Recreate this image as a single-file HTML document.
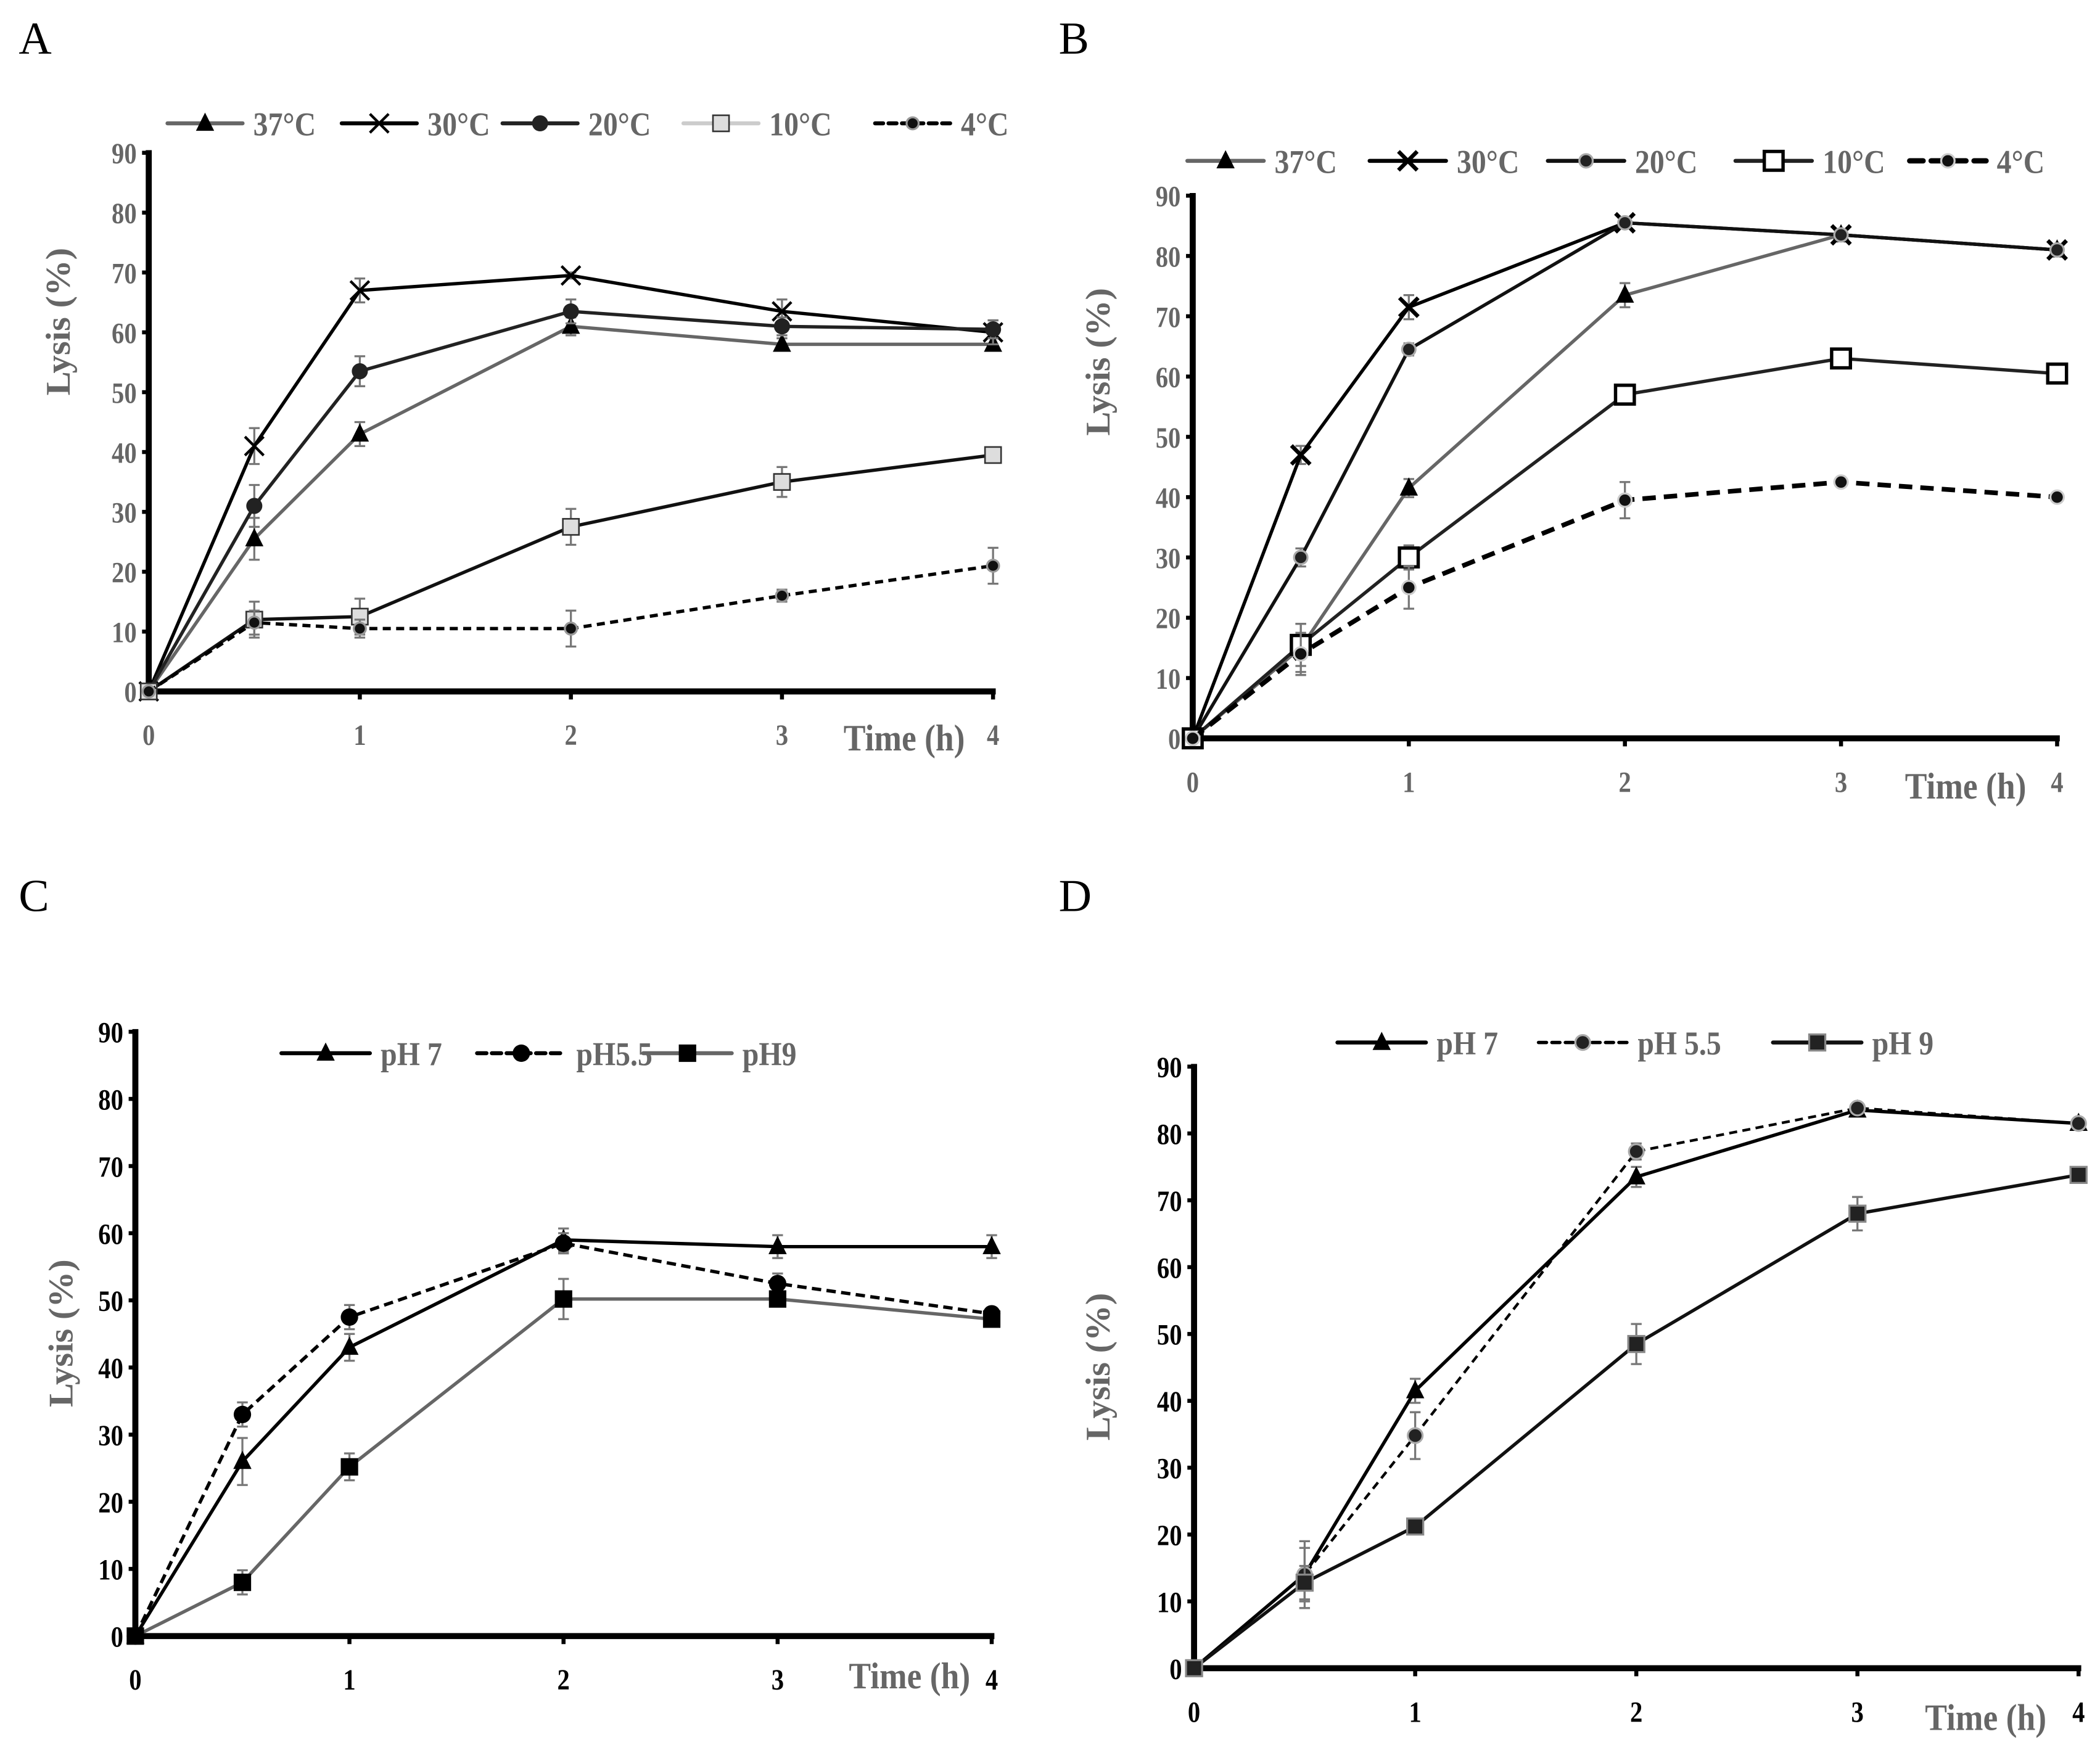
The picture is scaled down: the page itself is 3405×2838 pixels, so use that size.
<!DOCTYPE html>
<html><head><meta charset="utf-8">
<style>
html,body{margin:0;padding:0;background:#fff;}
svg{display:block;}
text{font-family:"Liberation Serif",serif;}
</style></head>
<body>
<svg id="fig" width="3405" height="2838" viewBox="0 0 1567 1306" xmlns="http://www.w3.org/2000/svg">
<rect width="1567" height="1306" fill="#fff"/>
</svg>
<script>
const times = [0, 0.5, 1, 2, 3, 4];
const yTicks = [0,10,20,30,40,50,60,70,80,90];
const xTicks = [0,1,2,3,4];

const A37 = [0,25.5,43,61,58,58];
const A30 = [0,41,67,69.5,63.5,60];
const A20 = [0,31,53.5,63.5,61,60.5];
const A10 = [0,12,12.5,27.5,35,39.5];
const A4  = [0,11.5,10.5,10.5,16,21];
const A37e = [0,3.5,2,1.5,1,1];
const A30e = [0,3,2,0.5,2,2];
const A20e = [0,3.5,2.5,2,1.5,1.5];
const A10e = [0,3,3,3,2.5,0.5];
const A4e  = [0,2,1.5,3,1,3];

const B37 = [0,15,41.5,73.5,83.5,81];
const B30 = [0,47,71.5,85.5,83.5,81];
const B20 = [0,30,64.5,85.5,83.5,81];
const B10 = [0,15.5,30,57,63,60.5];
const B4  = [0,14,25,39.5,42.5,40];
const B37e = [0,4,1.5,2,0.5,0.5];
const B30e = [0,1.5,2,0.5,0.5,0.5];
const B20e = [0,1.5,1,0.5,0.5,0.5];
const B10e = [0,3.5,2,1.5,1,1];
const B4e  = [0,3.5,3.5,3,0.5,0.5];

const C7  = [0,26,43,59,58,58];
const C55 = [0,33,47.5,58.5,52.5,48];
const C9  = [0,8,25.2,50.2,50.2,47.2];
const C7e = [0,3.5,2,1.7,1.7,1.7];
const C55e= [0,1.8,1.8,1.5,1.5,0.8];
const C9e = [0,1.8,2,3,0.8,0.8];

const D7  = [0,14,41.5,73.5,83.5,81.5];
const D55 = [0,14,34.8,77.3,83.8,81.5];
const D9  = [0,12.8,21.2,48.5,68,73.8];
const D7e = [0,5,1.8,1.5,0.5,0.5];
const D55e= [0,4,3.5,1.2,0.5,0.5];
const D9e = [0,2.5,0.5,3,2.5,0.5];

const NS='http://www.w3.org/2000/svg';
const svg=document.getElementById('fig');
function mk(tag,attrs,parent){const e=document.createElementNS(NS,tag);for(const k in attrs)e.setAttribute(k,attrs[k]);(parent||svg).appendChild(e);return e;}

function marker(g,type,x,y,s){
  let e;
  if(type==='tri'){e=mk('polygon',{points:`${x},${y-s.size} ${x-s.size*0.85},${y+s.size*0.7} ${x+s.size*0.85},${y+s.size*0.7}`,fill:s.mfill,stroke:s.mstroke||'none','stroke-width':1},g);}
  else if(type==='x'){const r=s.size;e=mk('path',{d:`M${x-r},${y-r}L${x+r},${y+r}M${x-r},${y+r}L${x+r},${y-r}`,stroke:s.mstroke||'#000','stroke-width':s.xw||2,fill:'none'},g);}
  else if(type==='circ'){e=mk('circle',{cx:x,cy:y,r:s.size,fill:s.mfill,stroke:s.mstroke||'none','stroke-width':s.msw||1.5},g);}
  else if(type==='sq'){const r=s.size;e=mk('rect',{x:x-r,y:y-r,width:2*r,height:2*r,fill:s.mfill,stroke:s.mstroke||'none','stroke-width':s.msw||1.5},g);}
  return e;
}
function ctext(parent,x,y,size,anchor,fill,str,sx){
  const t=mk('text',{x:0,y:0,'font-size':size,'font-weight':'bold','text-anchor':anchor,fill:fill,transform:`translate(${x},${y}) scale(${sx||0.85},1)`},parent);
  t.textContent=str;return t;
}

function panel(cfg){
  const P=mk('g',{});
  
  
  const X=t=>cfg.x0+(cfg.x4-cfg.x0)*t/4;
  const Y=v=>cfg.y0-(cfg.y0-cfg.y90)*v/90;
  const lab=mk('text',{x:cfg.lx,y:cfg.ly,'font-size':34,fill:'#000'},P);
  lab.textContent=cfg.id;
  
  
  yTicks.forEach(v=>{
    const t=ctext(P,cfg.x0-9,Y(v)+8,22,'end',cfg.tickCol,String(v));
    
    
    mk('line',{x1:cfg.x0-5,x2:cfg.x0,y1:Y(v),y2:Y(v),stroke:'#000','stroke-width':3},P);
  });
  xTicks.forEach(v=>{
    const t=ctext(P,X(v),cfg.y0+40,22,'middle',cfg.tickCol,String(v));
    
    
    mk('line',{x1:X(v),x2:X(v),y1:cfg.y0,y2:cfg.y0+6,stroke:'#000','stroke-width':3},P);
  });
  const xa=mk('line',{x1:cfg.x0-2,x2:cfg.x4+2,y1:cfg.y0,y2:cfg.y0,stroke:'#000','stroke-width':4.5},P);
  
  
  const ya=mk('line',{x1:cfg.x0,x2:cfg.x0,y1:cfg.y90-2,y2:cfg.y0+2,stroke:'#000','stroke-width':4.5},P);
  
  
  const tt=ctext(P,cfg.tx,cfg.ty,28,'end','#666','Time  (h)',0.88);
  
  
  const yt=mk('text',{x:0,y:0,'font-size':27,'font-weight':'bold',fill:'#666','text-anchor':'middle',transform:`translate(${cfg.yx},${cfg.yy}) rotate(-90) scale(1,0.95)`},P);
  yt.textContent='Lysis (%)';
  
  
  cfg.series.forEach(s=>{
    const g=mk('g',{},P);
    
    
    s.err.forEach((e,i)=>{
      if(e<=0.3)return;
      const x=X(times[i]);
      mk('path',{d:`M${x},${Y(s.vals[i]-e)}V${Y(s.vals[i]+e)}M${x-4},${Y(s.vals[i]-e)}H${x+4}M${x-4},${Y(s.vals[i]+e)}H${x+4}`,stroke:'#777','stroke-width':1.5,fill:'none'},g);
    });
    const pts=s.vals.map((v,i)=>X(times[i])+','+Y(v)).join(' ');
    const l=mk('polyline',{points:pts,fill:'none',stroke:s.col,'stroke-width':s.w,'stroke-dasharray':s.dash||'none'},g);
    
    
    s.vals.forEach((v,i)=>{
      const m=marker(g,s.mk,X(times[i]),Y(v),s);
      
      
    });
  });
  const lg=mk('g',{},P);
  
  
  cfg.series.forEach((s,i)=>{
    const lx=cfg.legX[i];
    const e=mk('g',{},lg);
    
    
    mk('line',{x1:lx,x2:lx+cfg.legLen,y1:cfg.legY,y2:cfg.legY,stroke:s.legCol||s.col,'stroke-width':s.w+0.5,'stroke-dasharray':s.dash||'none','stroke-linecap':'round'},e);
    marker(e,s.mk,lx+cfg.legLen/2,cfg.legY,s);
    ctext(e,lx+cfg.legLen+cfg.legGap,cfg.legY+9,25,'start','#666',s.label,0.88);
  });
}

panel({id:'A',lx:14,ly:40,x0:111,x4:741,y0:516,y90:114,tickCol:'#666',tx:720,ty:560,yx:52,yy:240,
  legY:92,legLen:56,legGap:8,legX:[125,255,375,510,653],
  series:[
   {key:'37c',label:'37°C',vals:A37,err:A37e,col:'#666',w:2.5,mk:'tri',size:8,mfill:'#000'},
   {key:'30c',label:'30°C',vals:A30,err:A30e,col:'#000',w:2.5,mk:'x',size:7,mstroke:'#000'},
   {key:'20c',label:'20°C',vals:A20,err:A20e,col:'#222',w:2.5,mk:'circ',size:6,mfill:'#222'},
   {key:'10c',label:'10°C',vals:A10,err:A10e,col:'#111',legCol:'#ccc',w:2.5,mk:'sq',size:6,mfill:'#ddd',mstroke:'#333',msw:1.2},
   {key:'4c',label:'4°C',vals:A4,err:A4e,col:'#000',w:2.5,dash:'6,4',mk:'circ',size:4.5,mfill:'#111',mstroke:'#999',msw:1.5}
  ]});
panel({id:'B',lx:790,ly:40,x0:890,x4:1535,y0:551,y90:146,tickCol:'#666',tx:1512,ty:596,yx:828,yy:270,
  legY:120,legLen:57,legGap:8,legX:[886,1022,1155,1295,1425],
  series:[
   {key:'37c',label:'37°C',vals:B37,err:B37e,col:'#666',w:2.5,mk:'tri',size:8,mfill:'#000'},
   {key:'30c',label:'30°C',vals:B30,err:B30e,col:'#000',w:2.5,mk:'x',size:7,mstroke:'#000',xw:3},
   {key:'20c',label:'20°C',vals:B20,err:B20e,col:'#111',w:2.5,mk:'circ',size:5,mfill:'#222',mstroke:'#aaa'},
   {key:'10c',label:'10°C',vals:B10,err:B10e,col:'#222',w:2.5,mk:'sq',size:7,mfill:'#fff',mstroke:'#000',msw:2.5},
   {key:'4c',label:'4°C',vals:B4,err:B4e,col:'#000',w:3.5,dash:'10,6',mk:'circ',size:5,mfill:'#111',mstroke:'#ccc',msw:1.5}
  ]});
panel({id:'C',lx:14,ly:680,x0:101,x4:740,y0:1221,y90:770,tickCol:'#000',tx:724,ty:1260,yx:54,yy:995,
  legY:786,legLen:66,legGap:8,legX:[210,356,480],
  series:[
   {key:'ph7',label:'pH 7',vals:C7,err:C7e,col:'#000',w:2.5,mk:'tri',size:8,mfill:'#000'},
   {key:'ph5-5',label:'pH5.5',vals:C55,err:C55e,col:'#000',w:2.5,dash:'7,4',mk:'circ',size:6.5,mfill:'#000'},
   {key:'ph9',label:'pH9',vals:C9,err:C9e,col:'#666',w:2.5,mk:'sq',size:6.5,mfill:'#000'}
  ]});
panel({id:'D',lx:790,ly:680,x0:891,x4:1551,y0:1245,y90:796,tickCol:'#000',tx:1527,ty:1291,yx:828,yy:1020,
  legY:778,legLen:66,legGap:8,legX:[998,1148,1323],
  series:[
   {key:'ph7',label:'pH 7',vals:D7,err:D7e,col:'#000',w:2.5,mk:'tri',size:8,mfill:'#000'},
   {key:'ph5-5',label:'pH 5.5',vals:D55,err:D55e,col:'#000',w:2,dash:'6,4',mk:'circ',size:5.5,mfill:'#222',mstroke:'#aaa'},
   {key:'ph9',label:'pH 9',vals:D9,err:D9e,col:'#111',w:2.5,mk:'sq',size:6,mfill:'#222',mstroke:'#888'}
  ]});
</script>
</body></html>
